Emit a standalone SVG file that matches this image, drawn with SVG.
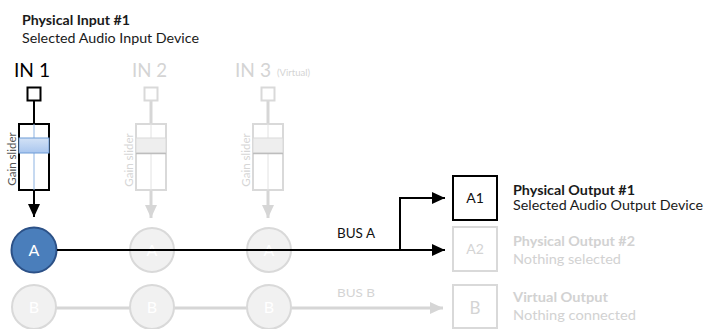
<svg xmlns="http://www.w3.org/2000/svg" width="704" height="329" viewBox="0 0 704 329">
<style>
text{font-family:Lato,"Liberation Sans","Noto Sans",sans-serif}
.dk{fill:#1a1a1a}
.gy{fill:#d2d2d2}
.b{font-weight:bold}
.t13{font-size:13px}
.sq{fill:#fff;stroke-width:2}
.sqk{stroke:#000}
.sqg{stroke:#d9d9d9}
.ln{fill:none;stroke:#000;stroke-width:2}
.lg{fill:none;stroke:#d6d6d6;stroke-width:3}
.gc{fill:#f1f1f1;stroke:#d9d9d9;stroke-width:2}
.ct{fill:#fff;font-size:16px;text-anchor:middle}
.gs{font-size:11.5px;fill:#d6d6d6}
.inl{font-size:19.5px}
</style>
<defs>
<marker id="ak" markerUnits="userSpaceOnUse" markerWidth="13" markerHeight="12" refX="13" refY="6" orient="auto"><path d="M0,0 L13,6 L0,12 z" fill="#000"/></marker>
<marker id="ag" markerUnits="userSpaceOnUse" markerWidth="13" markerHeight="12" refX="13" refY="6" orient="auto"><path d="M0,0 L13,6 L0,12 z" fill="#d6d6d6"/></marker>
<linearGradient id="kb" x1="0" y1="0" x2="0" y2="1"><stop offset="0" stop-color="#d3e2f6"/><stop offset="1" stop-color="#a9c6ee"/></linearGradient>
</defs>

<g id="title-in">
<text x="22" y="25" class="dk b t13" textLength="108" lengthAdjust="spacingAndGlyphs">Physical Input #1</text>
<text x="22" y="43" class="dk t13" textLength="177" lengthAdjust="spacingAndGlyphs">Selected Audio Input Device</text>
</g>

<g id="connectors">
<line class="ln" x1="34" y1="101" x2="34" y2="123"/>
<line class="ln" x1="34" y1="190" x2="34" y2="217" marker-end="url(#ak)"/>
<line class="lg" x1="151" y1="101" x2="151" y2="123"/>
<line class="lg" x1="151" y1="190" x2="151" y2="218" marker-end="url(#ag)"/>
<line class="lg" x1="268" y1="101" x2="268" y2="123"/>
<line class="lg" x1="268" y1="190" x2="268" y2="218" marker-end="url(#ag)"/>
<line class="lg" x1="50" y1="308" x2="443" y2="308" marker-end="url(#ag)"/>
</g>

<g id="node-in1">
<text x="14" y="77" class="inl" fill="#000" textLength="36" lengthAdjust="spacingAndGlyphs">IN 1</text>
<rect class="sq sqk" x="27.5" y="87.5" width="13" height="13"/>
<rect x="19" y="124" width="30" height="66" fill="#fff" stroke="#000" stroke-width="2"/>
<line x1="34" y1="124" x2="34" y2="190" stroke="#8db3e2" stroke-width="1"/>
<rect x="19" y="138" width="30" height="15" fill="url(#kb)" stroke="#6d9bd6" stroke-width="1"/>
<text transform="translate(15.5,159) rotate(-90)" font-size="11.5" fill="#555" text-anchor="middle">Gain slider</text>
</g>

<g id="node-in2">
<text x="132" y="77" class="inl" fill="#d4d4d4" textLength="35" lengthAdjust="spacingAndGlyphs">IN 2</text>
<rect class="sq sqg" x="144.5" y="87.5" width="13" height="13"/>
<rect x="136" y="124" width="30" height="66" fill="#fff" stroke="#d9d9d9" stroke-width="2"/>
<line x1="151" y1="124" x2="151" y2="190" stroke="#e2e2e2" stroke-width="1"/>
<rect x="136" y="138" width="30" height="15" fill="#eeeeee" stroke="#d9d9d9" stroke-width="1"/>
<line x1="136" y1="153.5" x2="166" y2="153.5" stroke="#bdbdbd" stroke-width="1.5"/>
<text transform="translate(132.5,160) rotate(-90)" class="gs" text-anchor="middle">Gain slider</text>
</g>

<g id="node-in3">
<text x="235" y="77" class="inl" fill="#d4d4d4" textLength="36" lengthAdjust="spacingAndGlyphs">IN 3</text>
<text x="277" y="76" font-size="9.5" fill="#d4d4d4">(Virtual)</text>
<rect class="sq sqg" x="261.5" y="87.5" width="13" height="13"/>
<rect x="253" y="124" width="30" height="66" fill="#fff" stroke="#d9d9d9" stroke-width="2"/>
<line x1="268" y1="124" x2="268" y2="190" stroke="#e2e2e2" stroke-width="1"/>
<rect x="253" y="138" width="30" height="15" fill="#eeeeee" stroke="#d9d9d9" stroke-width="1"/>
<line x1="253" y1="153.5" x2="283" y2="153.5" stroke="#bdbdbd" stroke-width="1.5"/>
<text transform="translate(249.5,160) rotate(-90)" class="gs" text-anchor="middle">Gain slider</text>
</g>

<g id="bus-b-nodes">
<circle class="gc" cx="34" cy="307" r="22"/>
<text class="ct" x="34" y="313">B</text>
<circle class="gc" cx="152" cy="307" r="22"/>
<text class="ct" x="152" y="313">B</text>
<circle class="gc" cx="269" cy="307" r="22"/>
<text class="ct" x="269" y="313">B</text>
<text x="337" y="297" font-size="12" fill="#d4d4d4" textLength="38" lengthAdjust="spacingAndGlyphs">BUS B</text>
</g>

<g id="bus-a-nodes">
<circle class="gc" cx="152" cy="250" r="22"/>
<text class="ct" x="152" y="256">A</text>
<circle class="gc" cx="269" cy="250" r="22"/>
<text class="ct" x="269" y="256">A</text>
<circle cx="34" cy="250" r="22.5" fill="#4a7ebb" stroke="#2c5187" stroke-width="2"/>
<text class="ct" x="34" y="256">A</text>
<text x="337" y="238" font-size="12.5" fill="#111" textLength="38" lengthAdjust="spacingAndGlyphs">BUS A</text>
</g>

<g id="connectors-a">
<line class="ln" x1="57" y1="250" x2="445" y2="250" marker-end="url(#ak)"/>
<polyline class="ln" points="400,250 400,198 445,198" marker-end="url(#ak)"/>
</g>

<g id="node-a1">
<rect x="453" y="176" width="44" height="44" fill="#fff" stroke="#000" stroke-width="2"/>
<text x="475" y="203" font-size="14" fill="#111" text-anchor="middle">A1</text>
<text x="513" y="195" class="dk b t13" textLength="122" lengthAdjust="spacingAndGlyphs">Physical Output #1</text>
<text x="513" y="210" class="dk t13" textLength="190" lengthAdjust="spacingAndGlyphs">Selected Audio Output Device</text>
</g>

<g id="node-a2">
<rect x="453" y="227" width="44" height="44" fill="#fff" stroke="#d9d9d9" stroke-width="2"/>
<text x="475" y="254" font-size="14" fill="#d4d4d4" text-anchor="middle">A2</text>
<text x="513" y="246" class="gy b t13" textLength="122" lengthAdjust="spacingAndGlyphs">Physical Output #2</text>
<text x="513" y="264" class="gy t13" textLength="108" lengthAdjust="spacingAndGlyphs">Nothing selected</text>
</g>

<g id="node-b">
<rect x="453" y="285" width="44" height="43" fill="#fff" stroke="#d9d9d9" stroke-width="2"/>
<text x="475" y="314" font-size="17" fill="#d4d4d4" text-anchor="middle">B</text>
<text x="513" y="302" class="gy b t13" textLength="95" lengthAdjust="spacingAndGlyphs">Virtual Output</text>
<text x="513" y="320" class="gy t13" textLength="123" lengthAdjust="spacingAndGlyphs">Nothing connected</text>
</g>
</svg>
